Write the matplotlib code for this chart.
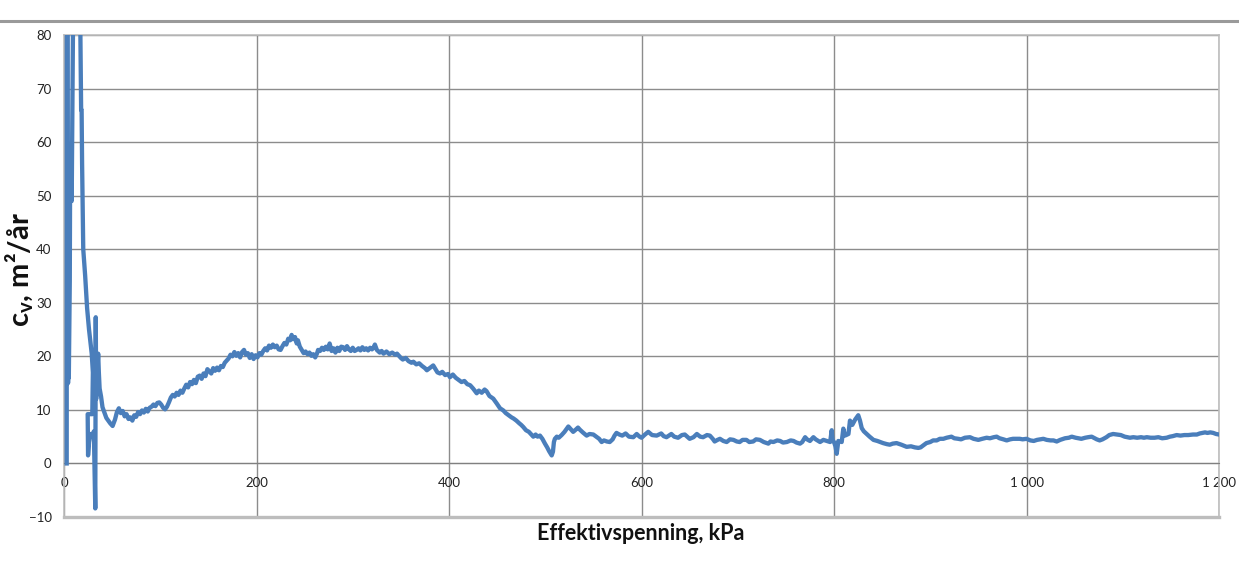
import numpy as np
import matplotlib
matplotlib.use("Agg")
import matplotlib.pyplot as plt
from matplotlib.lines import Line2D

plt.rcParams['font.family'] = ['Lato', 'DejaVu Sans']
plt.rcParams['mathtext.fontset'] = 'custom'
plt.rcParams['mathtext.rm'] = 'Lato'
plt.rcParams['mathtext.bf'] = 'Lato:bold'

# effektivspenning (kPa) og konsolideringskoeffisient cv (m2/år)
stress = [
    2.8, 3.0, 3.8, 4.2, 4.8, 5.0, 6.0, 6.4, 7.2, 8.0, 9.7, 16.5, 17.5, 17.8, 18.3, 18.8,
    20.0, 22.0, 24.0, 26.0, 28.8, 30.0, 29.4, 24.6, 25.0, 26.0, 27.5, 30.0, 31.0, 32.5,
    33.0, 33.4, 35.5, 36.2, 37.0, 38.5, 40.0, 42.0, 44.0, 46.0, 48.0, 50.5,
    53, 55, 57, 59, 61, 63, 65, 67, 69, 71, 73, 75, 77, 79, 81, 83, 85, 87, 89, 91, 93,
    95, 97, 99, 101, 103, 105, 107, 109, 111, 113, 115, 117, 119, 121, 123, 125, 127,
    129, 131, 133, 135, 137, 139, 141, 143, 145, 147, 149, 151, 153, 155, 157, 159, 161,
    163, 165, 167, 169, 171, 173, 175, 177, 179, 181, 183, 185, 187, 189, 191, 193, 195,
    197, 199, 201, 203, 205, 207, 209, 211, 213, 215, 217, 219, 221, 223, 225, 227, 229,
    231, 233, 235, 236.5, 238, 240, 241.8, 243, 245, 247, 249, 251, 253, 255, 257, 259,
    261, 263, 264, 266, 268, 270, 272, 274, 276, 278, 280, 282, 284, 286, 288, 290, 292,
    294, 296, 298, 300, 302, 304, 306, 308, 310, 312, 314, 316, 318, 320, 322, 323, 325,
    328, 330, 332, 335, 338, 341, 344, 346, 348, 350, 352, 355, 358, 361, 363, 366, 369,
    372, 375, 377, 380, 383.6, 386, 388, 390.6, 393, 396, 399, 401, 404, 407, 410, 413,
    416, 419, 422, 425, 428.8, 431, 434, 437, 439, 442, 446, 449.6, 453, 456.4, 459, 462,
    465, 467, 470, 473, 475, 477.2, 480, 483, 485, 487.6, 490, 492, 494.5, 497, 499.7,
    502, 504, 506.7, 508, 509, 510, 512, 514, 517, 520, 522, 524, 526, 529, 531, 534, 536,
    539, 543, 546, 550, 553, 556, 558.6, 561, 564, 567, 570, 572, 574, 577, 580, 583.5,
    587, 591.5, 595, 598, 600, 603, 607, 611, 615.8, 620.5, 623, 626, 631, 634, 638, 642,
    645, 650, 654, 657.5, 661, 664, 668, 671, 674, 676, 679, 681.5, 685, 688.5, 692,
    695.5, 699, 702, 705, 709, 712, 716, 719, 723, 727, 731.8, 734, 737, 741, 744, 747,
    751, 755, 758, 761, 764.7, 767, 770, 772, 775, 778.6, 781, 785.5, 789, 792.5, 796,
    797.6, 798.5, 800, 801.5, 802.8, 804.5, 808, 809.7, 811.4, 815, 816.6, 817.5, 819,
    822, 825.2, 827, 828.8, 831, 834, 837, 841, 845, 848, 851, 855, 858, 861, 865, 870,
    875.5, 880, 884, 887.6, 890, 893, 896, 900, 903, 906.7, 910, 913.6, 917, 922, 925,
    929, 932, 936, 941.3, 945, 950, 954, 958.6, 962, 966, 969, 972, 976, 979.4, 983, 986,
    989.8, 993, 996, 1000, 1004, 1007.5, 1011, 1014, 1017.5, 1021, 1025, 1028, 1031.4,
    1035, 1040, 1044, 1047, 1051, 1054, 1057, 1061, 1064, 1067.7, 1071, 1073, 1076, 1079,
    1083, 1086, 1090, 1094, 1098, 1102, 1105, 1107.5, 1111, 1115, 1119, 1122, 1125, 1129,
    1133, 1137, 1141, 1145.6, 1149, 1152, 1156, 1160, 1164, 1168, 1173, 1177, 1180, 1183,
    1185.5, 1188, 1191, 1194, 1197, 1200,
]
cv = [
    0, 90, 90, 15, 20, 16, 34, 56, 52, 49, 90, 90, 70, 66, 66, 56,
    40, 35, 29, 25, 20.5, 17, 9.2, 9.2, 1.5, 4, 5.5, 5, 6, -8.4,
    27.3, 12, 20.5, 17, 14, 12.5, 10.5, 9.5, 8.5, 8, 7.5, 7.0,
    8.2, 9.6, 10.3, 9.4, 9.8, 8.8, 9.2, 8.3, 8.6, 8.0, 9.0, 8.7, 9.6, 9.2, 9.9, 9.5, 10.2,
    9.7, 10.4, 10.6, 11.0, 10.7, 11.3, 11.4, 11.0, 10.4, 10.1, 10.6, 11.4, 12.3, 12.8,
    12.5, 13.2, 12.8, 13.6, 13.2, 14.0, 14.7, 14.2, 15.2, 14.8, 15.6, 15.0, 16.2, 16.4,
    15.8, 16.8, 16.3, 17.6, 17.2, 16.8, 17.8, 17.3, 17.9, 17.4, 18.2, 18.0, 18.8, 19.2,
    19.6, 20.3, 20.0, 20.8, 20.1, 20.6, 19.8, 20.8, 21.2, 20.3, 20.6, 19.7, 20.4, 19.5,
    20.2, 19.8, 20.6, 20.3, 21.0, 21.5, 21.1, 22.0, 21.6, 22.2, 21.7, 22.0, 21.3, 21.2,
    21.9, 22.5, 22.2, 23.3, 23.0, 24.0, 23.2, 23.6, 22.4, 23.0, 21.8, 21.2, 20.6, 20.9,
    20.4, 20.7, 20.1, 20.4, 19.8, 20.6, 21.2, 21.0, 21.6, 21.2, 21.8, 21.3, 22.4, 21.0,
    21.5, 20.7, 21.6, 21.0, 21.8, 21.7, 21.2, 21.9, 21.3, 21.0, 21.6, 21.0, 21.2, 21.5,
    21.1, 21.7, 21.2, 21.5, 21.1, 21.6, 21.3, 21.8, 22.2, 21.2, 20.7, 21.0, 20.5, 20.9,
    20.4, 20.7, 20.3, 20.5, 20.1, 19.7, 19.4, 19.7, 19.1, 18.8, 19.0, 18.5, 18.7, 18.2,
    17.8, 17.4, 17.8, 18.3, 17.6, 17.0, 16.8, 17.1, 16.5, 16.7, 16.1, 16.6, 16.0, 15.6,
    15.2, 15.4, 14.8, 14.6, 14.0, 13.1, 13.6, 13.2, 13.8, 13.5, 12.6, 12.1, 11.2, 10.3,
    9.9, 9.4, 9.0, 8.6, 8.4, 8.0, 7.5, 7.2, 6.8, 6.2, 5.9, 5.5, 5.0, 5.4, 5.0, 5.2, 4.6,
    3.7, 3.0, 2.3, 1.5, 2.2, 4.0, 4.6, 5.0, 4.8, 5.3, 5.9, 6.4, 6.9, 6.5, 5.9, 6.2, 6.7,
    6.3, 5.8, 5.2, 5.5, 5.4, 5.0, 4.6, 4.0, 4.3, 4.1, 4.0, 4.5, 5.2, 5.7, 5.4, 5.2, 5.6,
    5.0, 4.9, 5.5, 5.0, 4.8, 5.3, 5.9, 5.3, 5.2, 5.6, 5.1, 4.9, 5.5, 5.0, 4.8, 5.3, 5.4,
    4.6, 4.9, 5.5, 5.0, 4.9, 5.3, 5.2, 4.6, 4.1, 4.4, 4.6, 4.2, 4.0, 4.5, 4.4, 4.1, 4.0,
    4.4, 4.4, 4.0, 4.1, 4.5, 4.4, 4.0, 3.7, 4.1, 4.0, 4.3, 4.2, 3.9, 4.0, 4.3, 4.2, 3.9,
    3.7, 4.0, 4.9, 4.5, 4.2, 4.9, 4.5, 4.0, 4.4, 4.2, 4.0, 6.2, 4.3, 4.0, 3.2, 1.8, 4.2,
    4.0, 6.5, 5.2, 5.5, 8.0, 7.3, 7.2, 8.2, 9.0, 8.0, 6.6, 6.0, 5.5, 5.0, 4.4, 4.2, 4.0,
    3.8, 3.6, 3.5, 3.7, 3.8, 3.5, 3.1, 3.2, 3.0, 2.9, 3.0, 3.4, 3.8, 4.0, 4.3, 4.3, 4.6,
    4.6, 4.8, 5.0, 4.7, 4.6, 4.5, 4.8, 4.9, 4.6, 4.4, 4.6, 4.8, 4.7, 4.9, 5.0, 4.7, 4.5,
    4.3, 4.5, 4.6, 4.6, 4.6, 4.5, 4.6, 4.3, 4.2, 4.4, 4.5, 4.6, 4.4, 4.3, 4.3, 4.1, 4.4,
    4.7, 4.8, 5.0, 4.8, 4.7, 4.6, 4.8, 4.9, 5.0, 4.7, 4.5, 4.3, 4.5, 4.9, 5.3, 5.5, 5.4,
    5.3, 5.0, 4.9, 4.8, 4.9, 4.8, 4.9, 4.8, 4.9, 4.8, 4.8, 4.9, 4.7, 4.8, 5.0, 5.1, 5.3,
    5.2, 5.3, 5.3, 5.4, 5.4, 5.6, 5.7, 5.8, 5.7, 5.8, 5.7, 5.5, 5.4,
]

x_ticks = [0, 200, 400, 600, 800, 1000, 1200]
x_tick_labels = ['0', '200', '400', '600', '800', '1 000', '1 200']
y_ticks = [-10, 0, 10, 20, 30, 40, 50, 60, 70, 80]

fig = plt.figure(figsize=(12.39, 5.62), dpi=100)
ax = fig.add_axes([64 / 1239, 45 / 562, 1155 / 1239, 482 / 562])

grid_col = '#8c8c8c'
frame_col = '#bdbdbd'

ax.plot(stress, cv, color='#4a7ebb', lw=3.1, solid_joinstyle='round', zorder=3)

ax.set_xlim(0, 1200)
ax.set_ylim(-10, 80)
ax.set_xticks(x_ticks)
ax.set_xticklabels(x_tick_labels)
ax.set_yticks(y_ticks)

ax.grid(True, color=grid_col, lw=1.0)
ax.set_axisbelow(True)

# x-aksen går gjennom cv = 0
ax.spines['bottom'].set_position(('data', 0))
ax.spines['bottom'].set_color('#808080')
for s in ['top', 'left', 'right']:
    ax.spines[s].set_color(frame_col)
    ax.spines[s].set_linewidth(1.2)
ax.axhline(-10, color=frame_col, lw=2.4, clip_on=False, zorder=1)

ax.tick_params(axis='both', length=0, labelsize=9.5, colors='#222222')
ax.tick_params(axis='x', pad=10)
ax.tick_params(axis='y', pad=9)

fig.text(641 / 1239, 1 - 534 / 562, 'Effektivspenning, kPa', ha='center', va='center',
         fontsize=15.5, fontweight='bold', color='#111111')
fig.text(19 / 1239, 1 - 270 / 562, r'$\mathbf{c_{v}}$, m²/år', ha='center', va='center',
         rotation=90, fontsize=21, fontweight='bold', color='#111111')

# skillelinje øverst
fig.add_artist(Line2D([0, 1], [1 - 21 / 562, 1 - 21 / 562], color='#9a9a9a', lw=2.2,
                      transform=fig.transFigure))

fig.savefig('out.png', dpi=100)
